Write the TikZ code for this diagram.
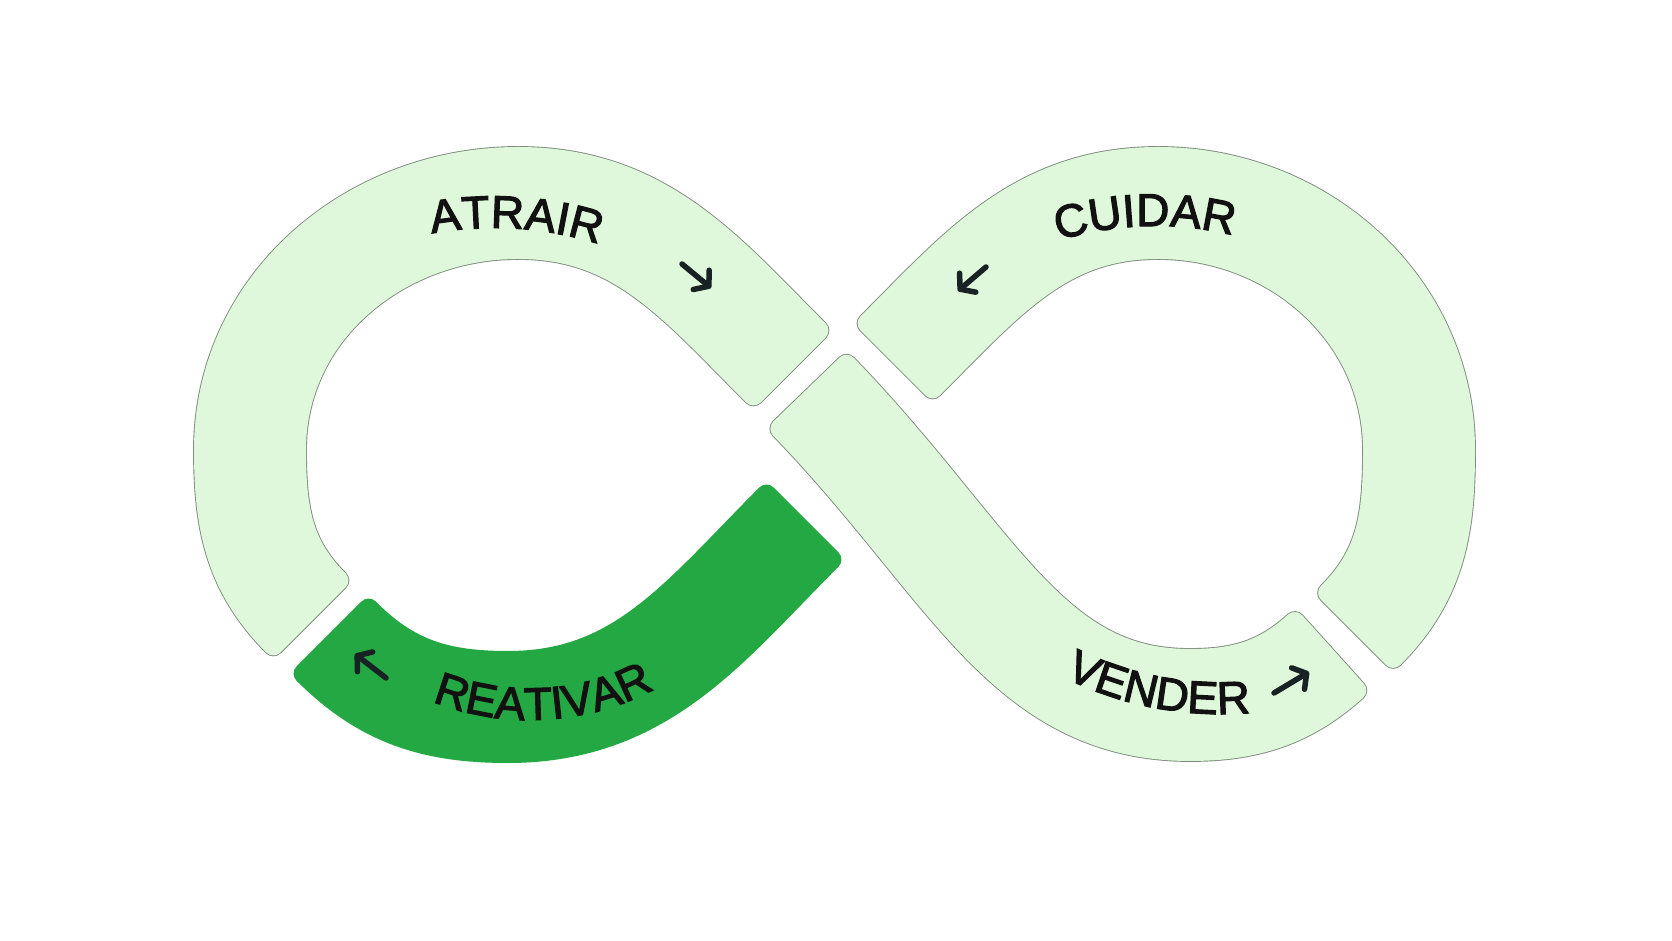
\documentclass[tikz,border=0pt]{standalone}
\usepackage{fontspec}
\setmainfont{Liberation Sans}
\newfontfamily\labfam[FakeBold=2.5]{Liberation Sans}
\usetikzlibrary{calc,arrows.meta,decorations.text}
\definecolor{mint}{RGB}{223,247,218}
\definecolor{mintedge}{RGB}{125,140,125}
\definecolor{leaf}{RGB}{35,168,67}
\definecolor{ink}{RGB}{24,34,36}
\definecolor{txt}{RGB}{17,17,17}
\newcommand{\labfont}{\labfam\fontsize{46pt}{50pt}\selectfont}
\begin{document}
\begin{tikzpicture}[x=1pt,y=1pt,
  body/.style={line cap=butt,line join=round,line width=112pt+#1},
  body/.default=0pt,
  capsule/.style={line cap=round,line width=20pt+#1},
  capsule/.default=0pt,
  glyph/.style={draw=ink,line width=5.5pt,line cap=round,-{Straight Barb[length=10pt,width=25pt,line cap=round,line join=round]}},
  bandtext/.style={decorate,decoration={text along path,text align=center,text color=txt,text={|\labfont|#1}}}
]
\useasboundingbox (0,0) rectangle (1672,941);
\fill[white] (0,0) rectangle (1672,941);

% segment end points (inset by the corner radius)
\coordinate (aS) at ($(313,321)+(135:10)$);
\coordinate (aE) at ($(793,571)+(135:10)$);
\coordinate (rS) at ($(329,307)+(-45:10)$);
\coordinate (rE) at ($(806,421)+(225:10)$);
\coordinate (cS) at ($(893,578)+(45:10)$);
\coordinate (cE) at ($(1353.5,308.5)+(45:10)$);
\coordinate (vS) at ($(806.5,551.5)+(-46:10)$);
\coordinate (vE) at ($(1333,291.5)+(222:10)$);

% pale segments: ATRAIR, CUIDAR, VENDER
\foreach \e/\c in {1.8pt/mintedge,0pt/mint}{
  \draw[body=\e,draw=\c] (aS) to[out=135,in=270] (250,491) to[out=90,in=180] (518,738) to[out=0,in=135] (aE);
  \draw[capsule=\e,draw=\c] ($(aS)+(45:46)$) -- ($(aS)+(225:46)$);
  \draw[capsule=\e,draw=\c] ($(aE)+(45:46)$) -- ($(aE)+(225:46)$);
  \draw[body=\e,draw=\c] (cS) to[out=45,in=180] (1158,738) to[out=0,in=90] (1419,491) to[out=-90,in=45] (cE);
  \draw[capsule=\e,draw=\c] ($(cS)+(135:46)$) -- ($(cS)+(-45:46)$);
  \draw[capsule=\e,draw=\c] ($(cE)+(135:46)$) -- ($(cE)+(-45:46)$);
  \draw[body=\e,draw=\c] (vS) .. controls +(-46:230) and +(180:165) .. (1190,236) .. controls +(0:55) and +(222:55) .. (vE);
  \draw[capsule=\e,draw=\c] ($(vS)+(44:46)$) -- ($(vS)+(224:46)$);
  \draw[capsule=\e,draw=\c] ($(vE)+(132:46)$) -- ($(vE)+(-48:46)$);
}

% dark segment: REATIVAR
\draw[body,draw=leaf] (rS) to[out=-45,in=180] (508,234) to[out=0,in=225] (rE);
\draw[capsule,draw=leaf] ($(rS)+(45:46)$) -- ($(rS)+(225:46)$);
\draw[capsule,draw=leaf] ($(rE)+(135:46)$) -- ($(rE)+(-45:46)$);

% labels
\path[bandtext=ATRAIR] ($(494,364)+(116.4:349)$) arc[start angle=116.4,end angle=56.4,radius=349];
\path[bandtext=CUIDAR] ($(1155,385)+(121.7:330)$) arc[start angle=121.7,end angle=61.7,radius=330];
\path[bandtext=REATIVAR] ($(530,486)+(-126.8:265)$) arc[start angle=-126.8,end angle=-46.8,radius=265];
\path[bandtext=VENDER] ($(1220,577)+(-140.7:350)$) arc[start angle=-140.7,end angle=-60.7,radius=350];

% direction arrows
\coordinate (atA) at (682,677); \coordinate (atB) at (711,653);
\coordinate (cuA) at (986,674); \coordinate (cuB) at (958,650);
\coordinate (reA) at (386,263); \coordinate (reB) at (355,287);
\coordinate (veA) at (1274,248); \coordinate (veB) at (1309,269);
\draw[glyph] (atA) -- (atB);
\draw[glyph] (cuA) -- (cuB);
\draw[glyph] (reA) -- (reB);
\draw[glyph] (veA) -- (veB);
\end{tikzpicture}
\end{document}
